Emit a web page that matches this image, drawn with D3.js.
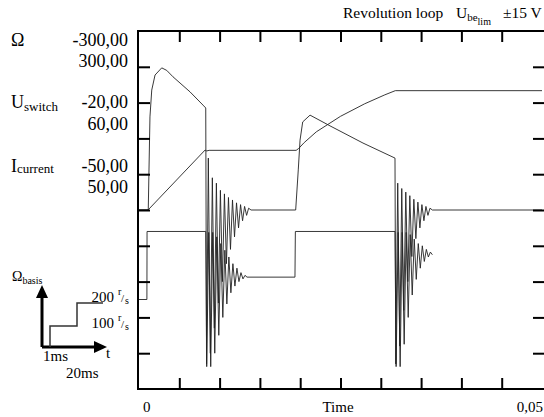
<!DOCTYPE html>
<html><head><meta charset="utf-8">
<script src="https://cdn.jsdelivr.net/npm/d3@7"></script>
<style>
body{margin:0;background:#fff}
svg{display:block}
</style>
</head><body>
<svg id="c" width="544" height="417" font-family="Liberation Serif, DejaVu Serif, serif"></svg>
<script>
// ---------- data ----------
const timeDomain = [0, 0.05];
const timeTicks = [0.005,0.01,0.015,0.02,0.025,0.03,0.035,0.04,0.045];
const divisionTicks = [1,2,3,4,5,6,7,8,9];
const omegaRange = [-300, 300];   // r/s
const switchRange = [-20, 60];    // V
const currentRange = [-50, 50];   // A
const channelLabels = [
  {name:"Ω", sub:"", lo:"-300,00", hi:"300,00"},
  {name:"U", sub:"switch", lo:"-20,00", hi:"60,00"},
  {name:"I", sub:"current", lo:"-50,00", hi:"50,00"}
];
const titleMain = "Revolution loop";
const refSteps = ["200", "100"];
const refTimes = ["1ms", "20ms"];

// speed Ω (r/s)
const speed = [
  [0,0],[0.00112,0],[0.0082,100.5],[0.0084,99],[0.0087,100],[0.0195,100],
  [0.0198,103],[0.0205,113],[0.022,131],[0.025,157],[0.028,178],[0.0305,193],[0.0318,200],[0.05,200]
];
// switch voltage U (V)
const voltage = [
  [0,0],[0.00098,0],[0.001,15.2],[0.00828,15.2],
  [0.0084,-15],[0.00865,15],[0.0089,-15],[0.00915,15],[0.0094,-12],[0.00965,14],[0.0099,-8],
  [0.01015,12.5],[0.0104,-4],[0.01065,11],[0.0109,-1],[0.01115,9.5],[0.0114,1.5],[0.01165,8],
  [0.0119,3],[0.01215,7],[0.0124,4],[0.01265,6],[0.0129,4.6],[0.01315,5.4],[0.0134,5],
  [0.01935,5],[0.0194,15.2],[0.03176,15.2],
  [0.0319,-15],[0.03215,15],[0.0324,-15],[0.03265,15],[0.0329,-10],[0.03315,15],[0.0334,-4],
  [0.03365,14.5],[0.0339,1],[0.03415,13.5],[0.0344,4.5],[0.03465,12.5],[0.0349,7],[0.03515,12],
  [0.0354,8.5],[0.03565,11.2],[0.0359,9.5],[0.03615,10.6],[0.0364,10]
];
// motor current I (A)
const current = [
  [0,0],[0.0011,0],[0.00115,0.3],[0.00136,26],[0.00158,33.5],[0.00199,37.7],[0.00282,39.7],
  [0.00344,39],[0.00422,37.2],[0.00633,33],[0.00794,29.3],[0.00828,28.5],
  [0.00838,-43],[0.0086,14.5],[0.00885,-40],[0.0091,9],[0.00935,-33],[0.0096,7.5],[0.00985,-26],
  [0.0101,5.5],[0.01035,-20],[0.0106,4.5],[0.01085,-15],[0.0111,3.5],[0.01135,-11],[0.0116,2.8],
  [0.01185,-7.5],[0.0121,2],[0.01235,-5],[0.0126,1.5],[0.01285,-3],[0.0131,1],[0.01335,-1.5],
  [0.0136,0.5],[0.0139,0],
  [0.01944,0],[0.01976,11.2],[0.01998,19.5],[0.02031,24.6],[0.02122,26.5],[0.0237,23.5],
  [0.02779,18.7],[0.03176,14.5],
  [0.03186,-43],[0.0321,7.5],[0.03235,-38],[0.0326,6],[0.03285,-28],[0.0331,5],[0.03335,-20],
  [0.0336,4],[0.03385,-13],[0.0341,3],[0.03435,-8],[0.0346,2.2],[0.03485,-5],[0.0351,1.5],
  [0.03535,-3],[0.0356,1],[0.03585,-1.5],[0.0361,0.5],[0.0364,0],[0.05,0]
];

// ---------- drawing ----------
const svg = d3.select("#c");
const L = 138, T = 31, B = 389, R = 542;
const x = d3.scaleLinear().domain(timeDomain).range([139, R]);
const yDiv = d3.scaleLinear().domain([0,10]).range([B, T]);
const yOmega = d3.scaleLinear().domain(omegaRange).range([B, T]);
const yU = d3.scaleLinear().domain(switchRange).range([B, T]);
const yI = d3.scaleLinear().domain(currentRange).range([B, T]);

// traces
const traces = [[speed, yOmega],[voltage, yU],[current, yI]];
traces.forEach(([data, ys]) => {
  svg.append("path").datum(data)
    .attr("d", d3.line().x(d => x(d[0])).y(d => ys(d[1])))
    .attr("fill","none").attr("stroke","#222").attr("stroke-width",0.9)
    .attr("stroke-linejoin","round");
});

// axes (ticks pointing inward)
function styleAxis(g){
  g.select(".domain").remove();
  g.selectAll(".tick line").attr("stroke","#000").attr("stroke-width",2);
  g.selectAll(".tick text").remove();
}
svg.append("g").attr("transform",`translate(${L},0)`)
  .call(d3.axisLeft(yDiv).tickValues(divisionTicks).tickSize(-12).tickFormat("")).call(styleAxis);
svg.append("g").attr("transform",`translate(544,0)`)
  .call(d3.axisRight(yDiv).tickValues(divisionTicks).tickSize(-11).tickFormat("")).call(styleAxis);
svg.append("g").attr("transform",`translate(0,${T})`)
  .call(d3.axisTop(x).tickValues(timeTicks).tickSize(-11).tickFormat("")).call(styleAxis);
svg.append("g").attr("transform",`translate(0,${B})`)
  .call(d3.axisBottom(x).tickValues(timeTicks).tickSize(-11).tickFormat("")).call(styleAxis);

// frame
svg.append("path").attr("d",`M548,${T}H${L}V${B}H548`)
  .attr("fill","none").attr("stroke","#000").attr("stroke-width",2);

// title
const tt = svg.append("text").attr("x",343).attr("y",18).attr("font-size",15.5);
tt.append("tspan").text(titleMain);
tt.append("tspan").attr("x",456).text("U");
tt.append("tspan").attr("font-size",11).attr("dy",3).text("be");
tt.append("tspan").attr("font-size",10).attr("dy",4).text("lim");
tt.append("tspan").attr("x",503).attr("dy",-7).text("±15 V");

// channel labels
const baseY = [46, 108, 172];
const gapY = [21, 22, 21];
channelLabels.forEach((c,i) => {
  const t = svg.append("text").attr("x",11).attr("y",baseY[i]).attr("font-size",18);
  t.append("tspan").text(c.name);
  if (c.sub) t.append("tspan").attr("font-size",13).attr("dy", i===1?3:1).text(c.sub);
  svg.append("text").attr("x",128).attr("y",baseY[i]).attr("font-size",18)
    .attr("text-anchor","end").text(c.lo);
  svg.append("text").attr("x",128).attr("y",baseY[i]+gapY[i]).attr("font-size",18)
    .attr("text-anchor","end").text(c.hi);
});

// bottom labels
svg.append("text").attr("x",143).attr("y",412).attr("font-size",15).text("0");
svg.append("text").attr("x",338).attr("y",412).attr("font-size",15).attr("text-anchor","middle").text("Time");
svg.append("text").attr("x",543).attr("y",412).attr("font-size",15).attr("text-anchor","end").text("0,05");

// inset: reference speed steps
const ins = svg.append("g");
ins.append("line").attr("x1",42).attr("y1",347).attr("x2",42).attr("y2",296)
  .attr("stroke","#000").attr("stroke-width",3);
ins.append("path").attr("d","M36,298L42,285L48,298Z").attr("fill","#000");
ins.append("line").attr("x1",42).attr("y1",347).attr("x2",96).attr("y2",347)
  .attr("stroke","#000").attr("stroke-width",3);
ins.append("path").attr("d","M94,341L107,347L94,353Z").attr("fill","#000");
ins.append("path").attr("d","M50,347V326H77V303H103")
  .attr("fill","none").attr("stroke","#333").attr("stroke-width",1.5);
const ob = ins.append("text").attr("x",12).attr("y",281).attr("font-size",14);
ob.append("tspan").text("Ω");
ob.append("tspan").attr("font-size",10).attr("dy",3).text("basis");
[[302,refSteps[0]],[328,refSteps[1]]].forEach(([yy,s]) => {
  ins.append("text").attr("x",114).attr("y",yy).attr("font-size",15).attr("text-anchor","end").text(s);
  ins.append("text").attr("x",118).attr("y",yy-7).attr("font-size",10).text("r");
  ins.append("text").attr("x",121).attr("y",yy).attr("font-size",11).text("/");
  ins.append("text").attr("x",125).attr("y",yy+2).attr("font-size",10).text("s");
});
ins.append("text").attr("x",43).attr("y",361).attr("font-size",15).text(refTimes[0]);
ins.append("text").attr("x",66).attr("y",378).attr("font-size",15).text(refTimes[1]);
ins.append("text").attr("x",106).attr("y",358).attr("font-size",15).text("t");
</script>
</body></html>
